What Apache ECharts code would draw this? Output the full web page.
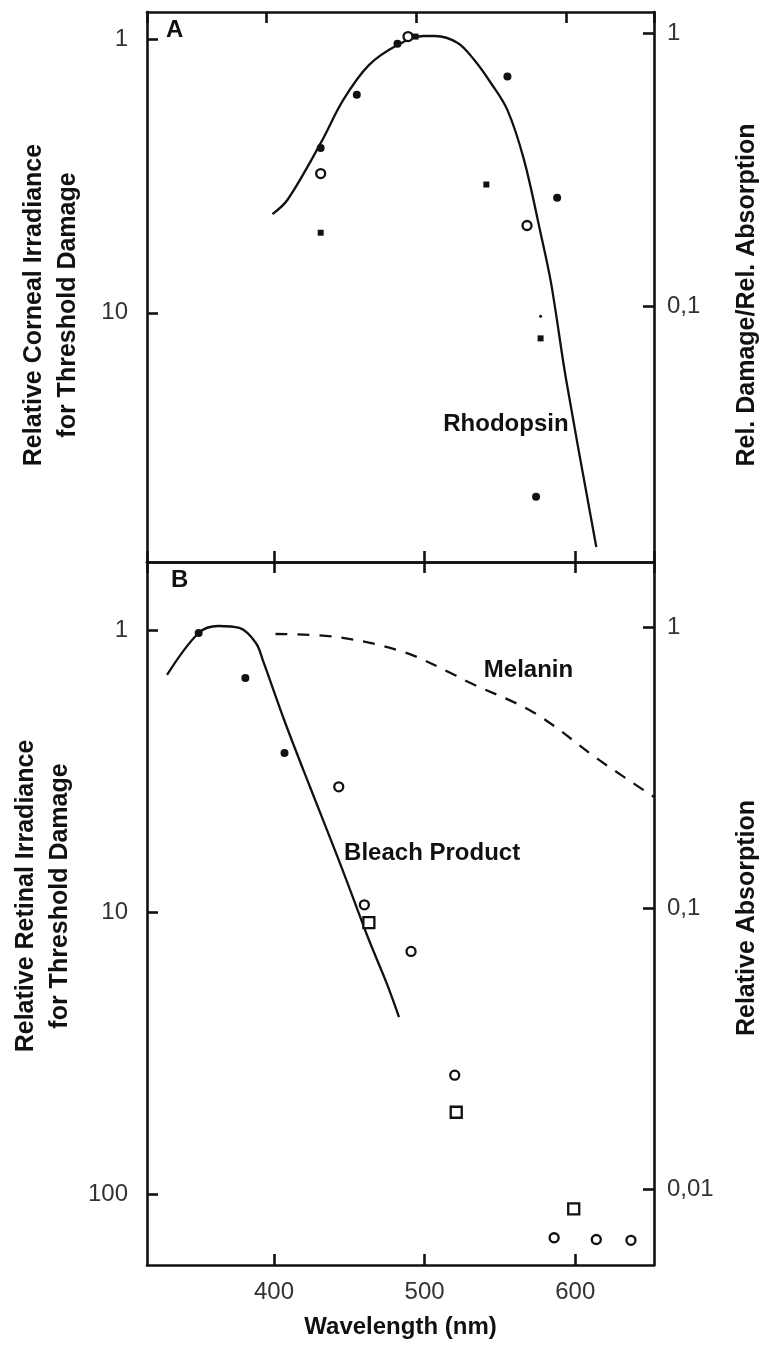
<!DOCTYPE html>
<html>
<head>
<meta charset="utf-8">
<style>
  html, body { margin: 0; padding: 0; background: #fff; }
  #chart { width: 772px; height: 1349px; }
</style>
<script src="https://cdn.jsdelivr.net/npm/echarts@6/dist/echarts.min.js"></script>
</head>
<body>
<div id="chart"></div>
<script>
// ---- data (wavelength in nm) ----

// panel A, rhodopsin absorption curve (right axis)
const rhodopsinWl = [399, 409, 431, 446, 463, 482, 499, 507, 522, 533, 544, 555, 566, 577, 584, 594, 614];
const rhodopsinAbs = [0.217, 0.245, 0.395, 0.569, 0.763, 0.904, 0.975, 0.975, 0.919, 0.796, 0.656, 0.522, 0.343, 0.185, 0.121, 0.0536, 0.0131];

// panel A, threshold points (left axis, relative corneal irradiance)
const aDotWl = [482, 455, 555, 431, 588, 574];
const aDotVal = [1.04, 1.6, 1.37, 2.5, 3.8, 47];
const aTinyWl = [577];
const aTinyVal = [10.3];
const aCircleWl = [489, 431, 568];
const aCircleVal = [0.98, 3.1, 4.8];
const aSquareWl = [494, 541, 431, 577];
const aSquareVal = [0.98, 3.4, 5.1, 12.4];

// panel B, bleach product and melanin absorption (right axis)
const bleachWl = [329, 350, 363, 377, 388, 393, 407, 424, 442, 453, 463, 475, 483];
const bleachAbs = [0.675, 0.952, 1.008, 0.992, 0.877, 0.751, 0.463, 0.269, 0.153, 0.107, 0.0771, 0.0537, 0.0409];
const melaninWl = [401, 442, 486, 520, 529, 573, 616, 652];
const melaninAbs = [0.944, 0.921, 0.815, 0.675, 0.637, 0.494, 0.336, 0.249];

// panel B, threshold points (left axis, relative retinal irradiance)
const bDotWl = [350, 381, 407];
const bDotVal = [1.025, 1.48, 2.73];
const bCircleWl = [443, 460, 491, 520, 586, 614, 637];
const bCircleVal = [3.6, 9.43, 13.8, 37.9, 143, 145, 146];
const bSquareWl = [463, 521, 599];
const bSquareVal = [10.9, 51.3, 113];

// curve labels
const aLabels = [{ name: 'Rhodopsin', value: [554, 25.6] }];
const bLabels = [
  { name: 'Melanin', value: [569, 1.386] },
  { name: 'Bleach Product', value: [505, 6.18] }
];

const zip = (xs, ys) => xs.map((x, i) => [x, ys[i]]);
const comma = v => String(v).replace('.', ',');

const FONT = 'Liberation Sans';
const INK = '#111';

const frameLine = { lineStyle: { color: INK, width: 2.6 } };
const tickLine = { color: INK, width: 2.6 };
const tickLabel = { color: '#333', fontFamily: FONT, fontSize: 24 };
const curveLabel = { show: true, position: 'inside', formatter: '{b}', fontFamily: FONT, fontSize: 24, fontWeight: 'bold', color: INK };

function nameStyle(padding) {
  return { color: INK, fontFamily: FONT, fontSize: 25, fontWeight: 'bold', lineHeight: 34, padding: padding };
}

function xAx(grid, position, min, max, showLabel) {
  return {
    type: 'value', gridIndex: grid, position: position,
    min: min, max: max, splitNumber: 3,
    axisLine: frameLine,
    axisTick: { inside: true, length: 11, lineStyle: tickLine },
    axisLabel: showLabel
      ? Object.assign({ margin: 15, showMinLabel: false, showMaxLabel: false }, tickLabel)
      : { show: false },
    splitLine: { show: false },
    name: showLabel ? 'Wavelength (nm)' : '',
    nameLocation: 'middle', nameGap: 50,
    nameTextStyle: { color: INK, fontFamily: FONT, fontSize: 24, fontWeight: 'bold' }
  };
}

function yAx(grid, position, min, max, inverse, name, gap, padding, margin, fmt) {
  return {
    type: 'log', logBase: 10, gridIndex: grid, position: position,
    min: min, max: max, inverse: inverse,
    axisLine: frameLine,
    axisTick: { inside: true, length: 11, lineStyle: tickLine },
    axisLabel: Object.assign({ margin: margin, showMinLabel: false, showMaxLabel: false, formatter: fmt }, tickLabel),
    splitLine: { show: false },
    minorTick: { show: false },
    name: name, nameLocation: 'middle', nameGap: gap, nameRotate: 90,
    nameTextStyle: nameStyle(padding)
  };
}

function scatter(name, x, y, xIdx, yIdx, symbol, size, filled) {
  return {
    name: name, type: 'scatter', xAxisIndex: xIdx, yAxisIndex: yIdx,
    data: zip(x, y), symbol: symbol, symbolSize: size,
    itemStyle: filled
      ? { color: INK, opacity: 1 }
      : { color: '#fff', borderColor: INK, borderWidth: 2.3, opacity: 1 },
    z: 5
  };
}

function textSeries(name, xIdx, yIdx, data) {
  return {
    name: name, type: 'scatter', xAxisIndex: xIdx, yAxisIndex: yIdx,
    data: data, symbolSize: 1, itemStyle: { color: 'rgba(0,0,0,0)', opacity: 1 },
    label: curveLabel, z: 6
  };
}

const chart = echarts.init(document.getElementById('chart'), null, { renderer: 'canvas' });

chart.setOption({
  backgroundColor: '#fff',
  animation: false,
  title: [
    { text: 'A', left: 161, top: 13, textStyle: { fontFamily: FONT, fontSize: 24, fontWeight: 'bold', color: INK } },
    { text: 'B', left: 166, top: 563, textStyle: { fontFamily: FONT, fontSize: 24, fontWeight: 'bold', color: INK } }
  ],
  grid: [
    { left: 147, top: 12, width: 515, height: 550 },
    { left: 147, top: 562, width: 515, height: 703 }
  ],
  xAxis: [
    xAx(0, 'top', 320, 659, false),
    xAx(0, 'bottom', 315.7, 652.3, false),
    xAx(1, 'top', 315.7, 652.3, false),
    xAx(1, 'bottom', 315.7, 652.3, true)
  ],
  yAxis: [
    yAx(0, 'left', 0.797, 81.3, true, 'Relative Corneal Irradiance\nfor Threshold Damage', 62, [0, 36, 0, 0], 19),
    yAx(0, 'right', 0.01154, 1.194, false, 'Rel. Damage/Rel. Absorption', 76, [0, 16, 0, 0], 13, comma),
    yAx(1, 'left', 0.574, 178.6, true, 'Relative Retinal Irradiance\nfor Threshold Damage', 66, [0, 0, 0, 35], 19),
    yAx(1, 'right', 0.00537, 1.703, false, 'Relative Absorption', 76, [0, 9, 0, 0], 13, comma)
  ],
  series: [
    {
      name: 'Rhodopsin', type: 'line', xAxisIndex: 1, yAxisIndex: 1,
      data: zip(rhodopsinWl, rhodopsinAbs), smooth: 0.35, showSymbol: false,
      lineStyle: { color: INK, width: 2.3 }
    },
    scatter('A dots', aDotWl, aDotVal, 1, 0, 'circle', 8, true),
    scatter('A tiny', aTinyWl, aTinyVal, 1, 0, 'circle', 3, true),
    scatter('A circles', aCircleWl, aCircleVal, 1, 0, 'circle', 9, false),
    scatter('A squares', aSquareWl, aSquareVal, 1, 0, 'rect', 6, true),
    textSeries('A labels', 1, 0, aLabels),
    {
      name: 'Bleach Product', type: 'line', xAxisIndex: 3, yAxisIndex: 3,
      data: zip(bleachWl, bleachAbs), smooth: 0.35, showSymbol: false,
      lineStyle: { color: INK, width: 2.3 }
    },
    {
      name: 'Melanin', type: 'line', xAxisIndex: 3, yAxisIndex: 3,
      data: zip(melaninWl, melaninAbs), smooth: 0.35, showSymbol: false,
      lineStyle: { color: INK, width: 2.3, type: [12, 10] }
    },
    scatter('B dots', bDotWl, bDotVal, 3, 2, 'circle', 8, true),
    scatter('B circles', bCircleWl, bCircleVal, 3, 2, 'circle', 9, false),
    scatter('B squares', bSquareWl, bSquareVal, 3, 2, 'rect', 11, false),
    textSeries('B labels', 3, 2, bLabels)
  ]
});
</script>
</body>
</html>
